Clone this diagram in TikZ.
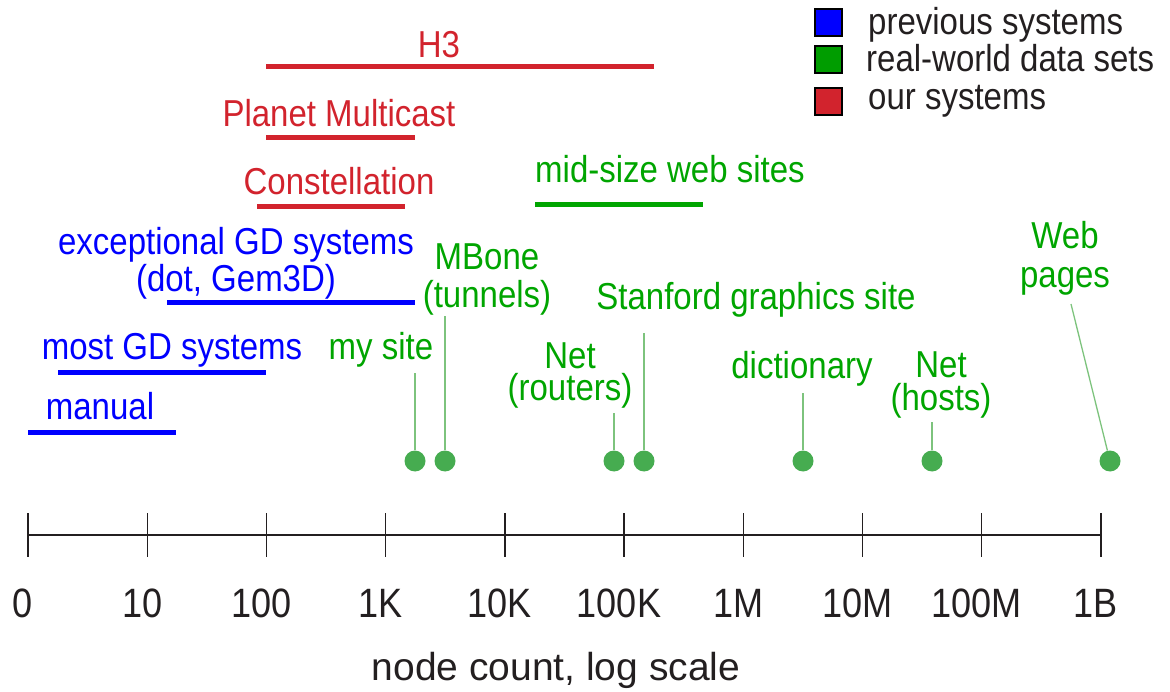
\documentclass[tikz,border=0pt]{standalone}
\usepackage{fontspec}
\setmainfont[FakeStretch=0.88]{Liberation Sans}
\newfontfamily\titlefont{Liberation Sans}
\definecolor{sysblue}{RGB}{0,0,255}
\definecolor{datagreen}{RGB}{0,165,0}
\definecolor{oursred}{RGB}{210,35,45}
\definecolor{dotgreen}{RGB}{70,172,80}
\definecolor{leadgreen}{RGB}{125,195,125}
\definecolor{axisgray}{RGB}{35,31,32}
\begin{document}
\begin{tikzpicture}[x=1pt,y=-1pt,
	every node/.style={inner sep=0pt, anchor=base, align=center, font=\fontsize{37.5}{37}\selectfont},
	bar/.style={line width=5pt},
	pt/.style={circle, fill=dotgreen, minimum size=21pt, anchor=center},
	leader/.style={leadgreen, line width=1.3pt},
	key/.style={draw=black, line width=2pt, minimum size=27pt, anchor=center},
	ticklab/.style={axisgray, font=\fontsize{41}{44}\selectfont}]
	\useasboundingbox (0,0) rectangle (1170,692);
	\node[key, fill=sysblue] (k1) at (828,23) {};
	\node[key, fill=datagreen!95!black] (k2) at (828,60) {};
	\node[key, fill=oursred] (k3) at (828,102) {};
	\node[anchor=base west, axisgray] (kt1) at (868,35) {previous systems};
	\node[anchor=base west, axisgray] (kt2) at (866,72) {real-world data sets};
	\node[anchor=base west, axisgray] (kt3) at (868,110) {our systems};
	\draw[bar, oursred] (266,67) -- (654,67);
	\draw[bar, oursred] (266,138) -- (415,138);
	\draw[bar, oursred] (257,207) -- (405,207);
	\draw[bar, datagreen] (535,205) -- (703,205);
	\draw[bar, sysblue] (167,303) -- (415,303);
	\draw[bar, sysblue] (58,373) -- (266,373);
	\draw[bar, sysblue] (28,432) -- (176,432);
	\node[oursred] (h3) at (439,58) {H3};
	\node[oursred] (planet) at (339,127) {Planet Multicast};
	\node[oursred] (constel) at (339,195) {Constellation};
	\node[datagreen, anchor=base west] (midsize) at (535,183) {mid-size web sites};
	\node[sysblue] (except) at (236,292) {exceptional GD systems\\(dot, Gem3D)};
	\node[sysblue] (mostgd) at (172,360) {most GD systems};
	\node[sysblue] (manual) at (100,420) {manual};
	\node[datagreen] (mysite) at (381,360) {my site};
	\node[datagreen] (mbone) at (487,308) {MBone\\[1pt](tunnels)};
	\node[datagreen] (netr) at (570,400) {Net\\[-5pt](routers)};
	\node[datagreen] (stanford) at (756,310) {Stanford graphics site};
	\node[datagreen] (dict) at (802,379) {dictionary};
	\node[datagreen] (neth) at (941,410) {Net\\[-4pt](hosts)};
	\node[datagreen] (web) at (1065,288) {Web\\[2pt]pages};
	\node[pt] (d1) at (415,461) {};
	\node[pt] (d2) at (445,461) {};
	\node[pt] (d3) at (614,461) {};
	\node[pt] (d4) at (644,461) {};
	\node[pt] (d5) at (803,461) {};
	\node[pt] (d6) at (932,461) {};
	\node[pt] (d7) at (1110,461) {};
	\coordinate (webend) at (1071,304);
	\draw[leader, shorten >=5pt] (d1) -- (d1 |- mysite.south);
	\draw[leader] (d2) -- (d2 |- mbone.south);
	\draw[leader, shorten >=5pt] (d3) -- (d3 |- netr.south);
	\draw[leader, shorten >=15pt] (d4) -- (d4 |- stanford.south);
	\draw[leader, shorten >=6pt] (d5) -- (d5 |- dict.south);
	\draw[leader, shorten >=4pt] (d6) -- (d6 |- neth.south);
	\draw[leader] (d7) -- (webend);
	\draw[axisgray, line width=2pt] (28,535) -- (1100.8,535);
	\foreach \lab [count=\i from 0] in {0,10,100,1K,10K,100K,1M,10M,100M,1B}{
		\draw[axisgray, line width=1.4pt] (28+119.2*\i,513) -- (28+119.2*\i,557);
		\node[ticklab] (t\i) at (23+119.2*\i,617) {\lab};
	}
	\node[axisgray, font=\titlefont\fontsize{39}{44}\selectfont] (title) at (556,680) {node count, log scale};
\end{tikzpicture}
\end{document}
